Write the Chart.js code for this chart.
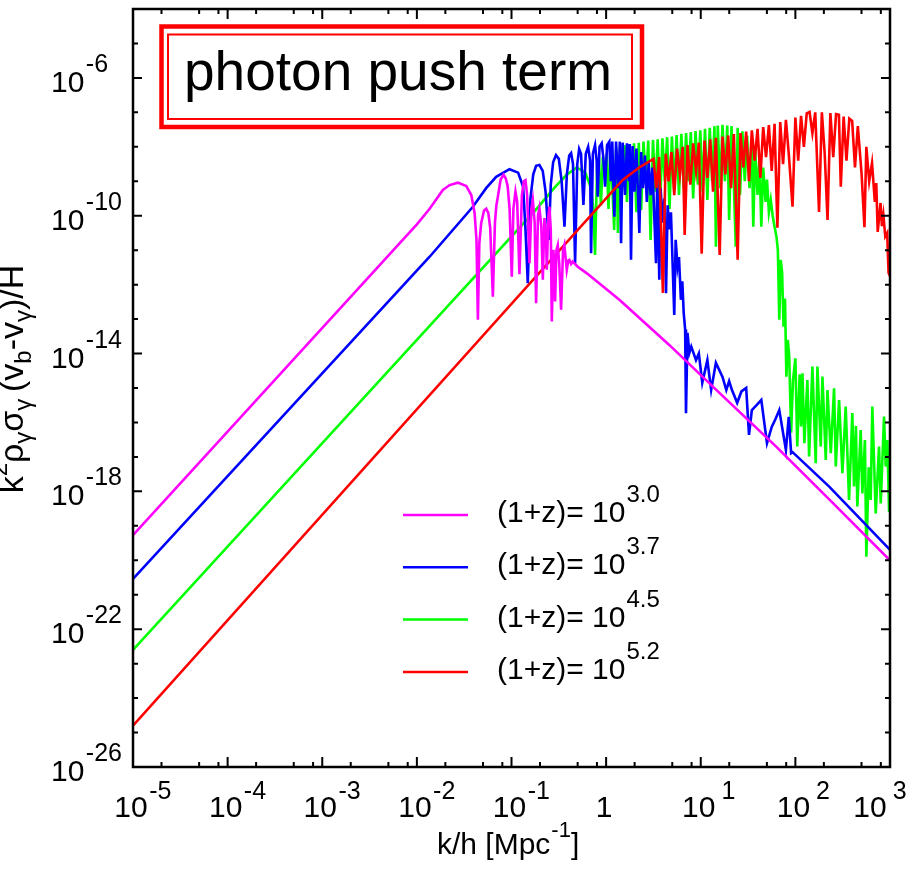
<!DOCTYPE html>
<html>
<head>
<meta charset="utf-8">
<script src="https://cdn.jsdelivr.net/npm/chart.js@4/dist/chart.umd.min.js"></script>
<style>
  html, body { margin: 0; padding: 0; background: #fff; }
</style>
</head>
<body>
<canvas id="cv" width="918" height="870"></canvas>
<script>
// every point is [log10(k/h), log10(k^2 rho sigma (vb - vg)/H)]
const magenta = [
  [-5.00,-19.27],[-2.00,-10.25],[-1.865,-9.80],[-1.725,-9.25],[-1.654,-9.11],[-1.567,-9.04],
  [-1.478,-9.14],[-1.425,-9.40],[-1.39,-9.92],[-1.37,-10.7],[-1.355,-13.02],[-1.34,-10.8],
  [-1.32,-10.21],[-1.29,-9.85],[-1.267,-9.80],[-1.245,-9.92],[-1.225,-10.35],[-1.197,-12.35],
  [-1.175,-10.2],[-1.16,-9.7],[-1.144,-9.45],[-1.115,-8.95],[-1.084,-8.81],[-1.06,-8.92],
  [-1.04,-9.16],[-1.02,-9.8],[-0.997,-11.77],[-0.98,-9.8],[-0.958,-9.30],[-0.94,-9.6],
  [-0.916,-11.70],[-0.89,-9.4],[-0.87,-9.0],[-0.852,-8.97],[-0.835,-9.4],[-0.81,-11.38],
  [-0.79,-9.8],[-0.775,-9.54],[-0.755,-10.2],[-0.74,-12.54],[-0.72,-10.0],[-0.705,-9.78],
  [-0.685,-10.3],[-0.669,-11.86],[-0.652,-10.07],[-0.635,-10.6],[-0.627,-11.57],[-0.61,-10.0],
  [-0.599,-9.74],[-0.585,-10.4],[-0.574,-13.07],[-0.557,-10.99],[-0.539,-12.49],[-0.525,-11.0],
  [-0.511,-10.85],[-0.495,-11.4],[-0.476,-12.73],[-0.455,-11.0],[-0.441,-10.85],[-0.416,-11.57],
  [-0.40,-11.3],[-0.388,-11.28],[-0.37,-11.4],[-0.353,-11.33],[-0.30,-11.48],[-0.20,-11.68],
  [0.14,-12.44],[0.667,-13.75],[1.20,-15.15],[1.80,-16.71],[2.40,-18.35],[3.00,-20.00]
];

const blue = [
  [-5.00,-20.54],[-1.865,-11.19],[-1.408,-9.74],[-1.268,-9.20],[-1.162,-8.87],[-1.021,-8.65],
  [-0.93,-8.75],[-0.877,-9.16],[-0.852,-10.41],[-0.828,-11.96],[-0.80,-9.5],[-0.77,-8.8],
  [-0.74,-8.55],[-0.705,-8.53],[-0.67,-8.7],[-0.64,-9.3],[-0.606,-10.7],[-0.585,-9.1],
  [-0.56,-8.45],[-0.53,-8.24],[-0.50,-8.35],[-0.47,-9.0],[-0.44,-10.32],[-0.415,-8.8],
  [-0.39,-8.25],[-0.37,-8.18],[-0.35,-8.5],[-0.328,-11.38],[-0.305,-8.5],[-0.285,-8.06],
  [-0.265,-8.2],[-0.24,-9.69],[-0.215,-8.2],[-0.19,-8.0],[-0.17,-8.4],[-0.159,-11.09],
  [-0.14,-8.2],[-0.117,-7.95],[-0.10,-8.4],[-0.089,-9.45],[-0.07,-8.0],[-0.047,-7.9],
  [-0.03,-8.3],[-0.011,-9.16],[0.01,-7.95],[0.034,-7.85],[0.05,-9.0],[0.065,-7.85],
  [0.087,-10.03],[0.105,-7.85],[0.13,-9.2],[0.145,-7.85],[0.158,-10.8],[0.175,-7.88],
  [0.20,-9.4],[0.22,-7.9],[0.24,-9.0],[0.25,-7.92],[0.263,-11.28],[0.28,-7.98],
  [0.30,-9.3],[0.32,-8.05],[0.351,-10.5],[0.37,-8.15],[0.39,-9.2],[0.41,-8.25],
  [0.43,-9.6],[0.45,-8.45],[0.47,-9.4],[0.49,-8.6],[0.527,-11.38],[0.54,-8.9],
  [0.562,-11.86],[0.575,-9.2],[0.60,-10.2],[0.615,-9.5],[0.633,-12.25],[0.65,-9.7],
  [0.67,-10.4],[0.685,-9.9],[0.72,-12.88],[0.735,-10.7],[0.755,-11.48],[0.77,-11.2],
  [0.79,-12.44],[0.805,-11.9],[0.82,-12.83],[0.835,-13.3],[0.844,-15.73],[0.86,-13.4],
  [0.88,-13.98],[0.90,-13.8],[0.95,-14.19],[0.98,-14.0],[1.016,-14.85],[1.07,-14.19],
  [1.11,-15.06],[1.16,-14.27],[1.23,-14.68],[1.27,-15.06],[1.30,-14.8],[1.33,-15.06],
  [1.385,-15.43],[1.43,-15.1],[1.48,-15.0],[1.51,-16.36],[1.54,-15.64],[1.59,-15.5],
  [1.64,-15.35],[1.70,-16.6],[1.75,-16.13],[1.79,-15.9],[1.83,-15.64],[1.90,-16.8],
  [1.93,-15.84],[1.955,-16.89],[1.97,-16.86],[2.36,-17.87],[2.97,-19.61],[3.00,-19.70]
];

const green = [
  [-5.00,-22.60],[-1.865,-13.20],[-0.75,-9.85],[-0.55,-9.20],[-0.42,-8.82],[-0.31,-8.60],
  [-0.22,-8.75],[-0.16,-9.20],[-0.135,-9.80],[-0.117,-11.14],[-0.095,-8.55],[-0.075,-8.40],
  [-0.055,-9.70],[-0.035,-8.30],[-0.015,-8.90],[0.005,-8.20],[0.025,-9.80],[0.045,-8.12],
  [0.065,-9.10],[0.085,-10.41],[0.105,-8.05],[0.125,-10.50],[0.145,-7.98],[0.170,-9.20],
  [0.195,-7.95],[0.220,-9.60],[0.245,-7.92],[0.270,-9.00],[0.295,-7.90],[0.320,-9.90],
  [0.345,-7.88],[0.370,-9.83],[0.395,-7.85],[0.420,-9.10],[0.445,-7.82],[0.470,-10.70],
  [0.495,-7.80],[0.520,-9.30],[0.545,-7.78],[0.570,-9.70],[0.595,-7.75],[0.620,-9.00],
  [0.645,-7.72],[0.670,-9.80],[0.695,-7.70],[0.720,-9.25],[0.745,-7.66],[0.770,-9.40],
  [0.795,-7.62],[0.820,-9.20],[0.845,-7.60],[0.870,-9.00],[0.895,-7.57],[0.920,-9.50],
  [0.945,-7.54],[0.970,-9.10],[0.995,-7.52],[1.020,-9.30],[1.045,-7.48],[1.070,-9.54],
  [1.095,-7.45],[1.120,-9.00],[1.145,-7.40],[1.160,-10.90],[1.180,-7.38],[1.205,-9.20],
  [1.230,-7.36],[1.255,-9.00],[1.280,-7.38],[1.300,-10.12],[1.325,-7.40],[1.350,-9.10],
  [1.370,-10.90],[1.390,-7.45],[1.415,-9.40],[1.440,-7.55],[1.465,-9.00],[1.490,-7.68],
  [1.515,-9.20],[1.540,-7.90],[1.555,-10.32],[1.575,-8.10],[1.600,-9.40],[1.620,-8.35],
  [1.640,-10.32],[1.660,-8.60],[1.685,-9.60],[1.700,-8.95],[1.720,-9.90],[1.740,-9.54],
  [1.760,-10.00],[1.780,-10.32],[1.800,-10.60],[1.815,-11.00],[1.830,-13.02],[1.845,-11.28],
  [1.860,-11.66],[1.875,-13.22],[1.890,-12.40],[1.905,-14.67],[1.920,-13.60],[1.935,-14.09],
  [1.955,-16.30],[1.975,-14.77],[2.000,-14.14],[2.020,-16.70],[2.045,-14.60],[2.060,-16.12],
  [2.075,-14.57],[2.095,-16.60],[2.127,-14.77],[2.145,-16.99],[2.180,-14.38],[2.215,-17.18],
  [2.233,-14.38],[2.268,-16.70],[2.286,-14.67],[2.321,-17.09],[2.339,-15.06],[2.374,-16.89],
  [2.409,-15.01],[2.427,-17.28],[2.462,-15.35],[2.497,-17.47],[2.532,-15.54],[2.567,-18.25],
  [2.602,-15.73],[2.620,-17.86],[2.640,-16.10],[2.655,-18.44],[2.690,-16.22],[2.708,-18.06],
  [2.735,-16.51],[2.750,-19.90],[2.775,-17.30],[2.796,-18.25],[2.813,-15.54],[2.849,-18.64],
  [2.884,-16.70],[2.902,-18.35],[2.937,-15.83],[2.955,-17.28],[2.972,-16.51],[2.990,-18.60],
  [3.000,-17.60]
];

const red = [
  [-5.00,-24.80],[0.175,-8.96],[0.35,-8.60],[0.50,-8.35],[0.53,-9.2],
  [0.56,-8.3],[0.60,-12.24],[0.63,-8.2],[0.66,-9.0],[0.69,-8.15],[0.72,-9.4],
  [0.75,-8.05],[0.78,-8.8],[0.81,-8.0],[0.83,-10.56],[0.86,-7.95],[0.89,-9.1],
  [0.92,-7.9],[0.95,-8.7],[0.98,-7.88],[1.01,-11.1],[1.04,-7.82],[1.07,-8.9],
  [1.10,-7.78],[1.13,-9.3],[1.16,-7.74],[1.20,-11.14],[1.23,-7.7],[1.26,-8.8],
  [1.29,-7.67],[1.32,-9.2],[1.35,-7.63],[1.39,-11.28],[1.42,-7.6],[1.45,-8.6],
  [1.48,-7.56],[1.51,-9.0],[1.54,-7.52],[1.57,-8.4],[1.60,-7.48],[1.63,-8.9],
  [1.66,-7.43],[1.69,-8.3],[1.72,-7.37],[1.75,-8.7],[1.78,-7.33],[1.81,-10.35],
  [1.84,-7.28],[1.87,-8.5],[1.90,-7.22],[1.93,-8.2],[1.97,-9.74],[2.00,-7.15],
  [2.03,-8.4],[2.06,-7.10],[2.09,-8.0],[2.12,-7.03],[2.15,-6.99],[2.18,-7.6],
  [2.21,-7.00],[2.25,-9.89],[2.28,-7.0],[2.31,-8.2],[2.34,-10.12],[2.37,-7.02],
  [2.40,-8.3],[2.43,-7.05],[2.46,-7.07],[2.48,-9.16],[2.51,-7.12],[2.54,-8.4],
  [2.57,-7.18],[2.60,-7.25],[2.63,-8.6],[2.66,-7.40],[2.70,-8.8],[2.73,-10.33],
  [2.75,-8.0],[2.78,-9.0],[2.81,-8.47],[2.84,-9.6],[2.855,-9.05],[2.87,-10.47],
  [2.90,-9.63],[2.915,-10.3],[2.93,-9.98],[2.95,-10.6],[2.97,-10.5],[2.985,-11.66],
  [3.00,-11.75]
];

const redshiftExp = ['3.0', '3.7', '4.5', '5.2'];
const lineColors = ['#ff00ff', '#0000ff', '#00ff00', '#ff0000'];
const xMajorExp = [-5, -4, -3, -2, -1, 0, 1, 2, 3];
const xMinorMant = [2, 5, 8];
const yLabelExp = [-26, -22, -18, -14, -10, -6];

const FONT = "'Liberation Sans', Arial, sans-serif";

const toPoints = (arr) => arr.map(([k, v]) => ({ x: Math.pow(10, k), y: Math.pow(10, v) }));

// draws "10" with an exponent; anchor 'left' or 'center' on the "10"
function powLabel(c, x, y, exp, anchor, size, supSize, supRise) {
  c.font = `${size}px ${FONT}`;
  const base = exp === 0 ? '1' : '10';
  const w = c.measureText(base).width;
  let x0 = anchor === 'center' ? x - w / 2 : x;
  c.textAlign = 'left';
  c.textBaseline = 'alphabetic';
  c.fillText(base, x0, y);
  if (exp === 0) return;
  c.font = `${supSize}px ${FONT}`;
  const gap = exp > 0 ? 6 : 1.5;
  c.fillText(String(exp), x0 + w + gap, y - supRise);
}

const decor = {
  id: 'decor',
  beforeDraw(chart) {
    const c = chart.ctx;
    c.save();
    c.fillStyle = '#fff';
    c.fillRect(0, 0, chart.width, chart.height);
    c.restore();
  },
  afterDatasetsDraw(chart) {
    const c = chart.ctx, a = chart.chartArea;
    const xs = chart.scales.x, ys = chart.scales.y;
    c.save();
    c.fillStyle = '#000';
    c.strokeStyle = '#000';

    // axis frame
    c.lineWidth = 2.5;
    c.strokeRect(a.left, a.top, a.right - a.left, a.bottom - a.top);

    // ticks, all pointing inward
    c.lineWidth = 2;
    c.beginPath();
    const vTick = (px, len) => {
      c.moveTo(px, a.bottom); c.lineTo(px, a.bottom - len);
      c.moveTo(px, a.top); c.lineTo(px, a.top + len);
    };
    const hTick = (py, len) => {
      c.moveTo(a.left, py); c.lineTo(a.left + len, py);
      c.moveTo(a.right, py); c.lineTo(a.right - len, py);
    };
    for (const e of xMajorExp) {
      vTick(xs.getPixelForValue(Math.pow(10, e)), 10);
      if (e < 3) for (const m of xMinorMant) vTick(xs.getPixelForValue(m * Math.pow(10, e)), 5);
    }
    for (let e = -26; e <= -4; e++) {
      hTick(ys.getPixelForValue(Math.pow(10, e)), yLabelExp.includes(e) ? 9 : 5);
    }
    c.stroke();

    // tick labels
    for (const e of xMajorExp) {
      let px = xs.getPixelForValue(Math.pow(10, e)) - 2;
      if (e === 3) px -= 18;
      powLabel(c, px, 817, e, 'center', 30, 25, 18);
    }
    for (const e of yLabelExp) {
      const py = ys.getPixelForValue(Math.pow(10, e));
      powLabel(c, 51, py + 14, e, 'left', 30, 25, 20);
    }

    // x axis title
    c.font = `30px ${FONT}`;
    c.textAlign = 'left';
    let tx = 437;
    const xt1 = 'k/h [Mpc';
    c.fillText(xt1, tx, 854);
    tx += c.measureText(xt1).width + 1;
    c.font = `22px ${FONT}`;
    c.fillText('-1', tx, 854 - 17);
    tx += c.measureText('-1').width;
    c.font = `30px ${FONT}`;
    c.fillText(']', tx, 854);

    // y axis title, rotated; level 1 = superscript, -1 = subscript
    const parts = [['k', 0], ['2', 1], ['\u03c1', 0], ['\u03b3', -1], ['\u03c3', 0], ['\u03b3 ', -1],
                   ['(v', 0], ['b', -1], ['-v', 0], ['\u03b3', -1], [')/H', 0]];
    const widthOf = ([s, lvl]) => { c.font = `${lvl ? 24 : 34}px ${FONT}`; return c.measureText(s).width; };
    const total = parts.reduce((t, p) => t + widthOf(p), 0);
    c.save();
    c.translate(23, 379);
    c.rotate(-Math.PI / 2);
    let ox = -total / 2;
    for (const p of parts) {
      const w = widthOf(p);
      c.fillText(p[0], ox, p[1] === 1 ? -16 : p[1] === -1 ? 8 : 0);
      ox += w;
    }
    c.restore();

    // title box
    c.fillStyle = '#fff';
    c.fillRect(161, 26, 481, 101);
    c.strokeStyle = '#ff0000';
    c.lineWidth = 4.5;
    c.strokeRect(161.5, 26.5, 480.5, 100.5);
    c.lineWidth = 2;
    c.strokeRect(168, 34.5, 464, 84.5);
    c.fillStyle = '#000';
    c.font = `55px ${FONT}`;
    c.fillText('photon push term', 184, 90);

    // legend
    redshiftExp.forEach((z, i) => {
      const ly = 515 + i * 52.3;
      c.strokeStyle = lineColors[i];
      c.lineWidth = 2.5;
      c.beginPath();
      c.moveTo(403, ly); c.lineTo(468, ly);
      c.stroke();
      c.fillStyle = '#000';
      c.font = `30px ${FONT}`;
      const s = '(1+z)= 10';
      c.fillText(s, 497, ly + 7);
      const w = c.measureText(s).width;
      c.font = `24px ${FONT}`;
      c.fillText(z, 497 + w + 1, ly + 7 - 20);
    });

    c.restore();
  }
};

const series = [magenta, blue, green, red];
const drawOrder = [0, 2, 3, 1];

new Chart(document.getElementById('cv'), {
  type: 'line',
  data: {
    datasets: series.map((s, i) => ({
      label: '(1+z)= 10^' + redshiftExp[i],
      data: toPoints(s),
      borderColor: lineColors[i],
      borderWidth: 2.6,
      pointRadius: 0,
      fill: false,
      tension: 0,
      order: drawOrder[i]
    }))
  },
  options: {
    responsive: false,
    animation: false,
    layout: { padding: { left: 133, right: 28, top: 9, bottom: 103 } },
    plugins: { legend: { display: false }, tooltip: { enabled: false } },
    scales: {
      x: { type: 'logarithmic', min: 1e-5, max: 1e3, display: false },
      y: { type: 'logarithmic', min: 1e-26, max: 1e-4, display: false }
    }
  },
  plugins: [decor]
});
</script>
</body>
</html>
